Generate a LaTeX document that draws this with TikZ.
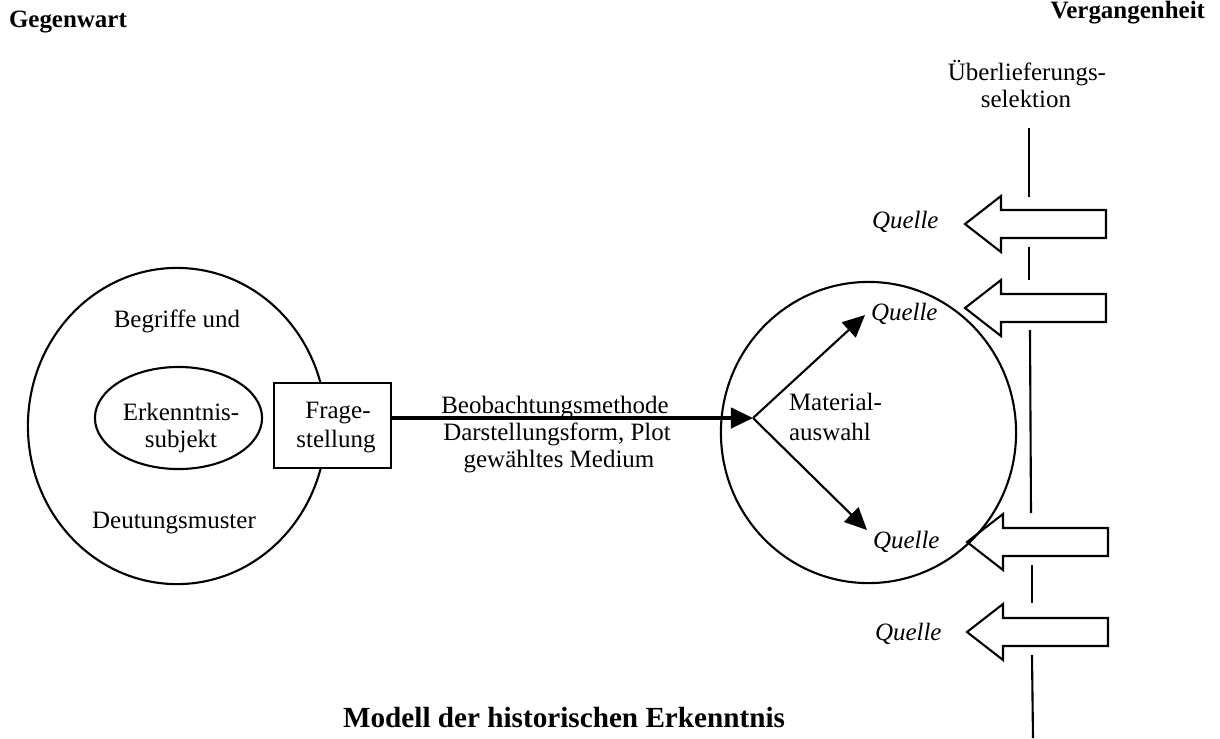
\documentclass[tikz,border=0pt]{standalone}
\usepackage{fontspec}
\setmainfont{Liberation Serif}
\usetikzlibrary{arrows.meta,shapes.geometric}
\begin{document}
\begin{tikzpicture}[x=0.01cm,y=-0.01cm,
  every node/.style={font=\fontsize{7.1}{7.7}\selectfont, inner sep=0pt, outer sep=0pt},
  thinline/.style={line width=0.6pt},
  txt/.style={anchor=base},
  txtl/.style={anchor=base west},
  heading/.style={font=\fontsize{7.1}{7.7}\selectfont\bfseries},
  quelle/.style={anchor=base west, font=\fontsize{7.1}{7.7}\selectfont\itshape},
  arrowtip/.style={-{Triangle[length=6.3pt,width=5.8pt]}},
  blockarrow/.style={thinline, line join=miter}
]
\useasboundingbox (0,0) rectangle (1220,738);

% headings
\node[heading, anchor=base west] (gegenwart) at (9,27) {Gegenwart};
\node[heading, anchor=base east] (vergangenheit) at (1205,18) {Vergangenheit};
\node[txt] (ueber1) at (1027,80) {Überlieferungs-};
\node[txt] (ueber2) at (1026,107) {selektion};

% left circle
\node[ellipse, draw, thinline, minimum width=2.98cm, minimum height=3.16cm] (subjektkreis) at (177,426) {};
\node[txt] (begriffe) at (177,327) {Begriffe und};
\node[txt] (deutung) at (174,528) {Deutungsmuster};
\node[ellipse, draw, thinline, minimum width=1.67cm, minimum height=1.02cm] (subjekt) at (178.5,418) {};
\node[txt] (subjekt1) at (181,420) {Erkenntnis-};
\node[txt] (subjekt2) at (181,447) {subjekt};

% Fragestellung
\node[draw, thinline, fill=white, minimum width=1.17cm, minimum height=0.85cm] (frage) at (332.5,425.5) {};
\node[txt] (frage1) at (338,418) {Frage-};
\node[txt] (frage2) at (336,447) {stellung};

% right circle
\node[ellipse, draw, thinline, minimum width=2.95cm, minimum height=3.01cm] (material) at (868.5,432.5) {};
\coordinate (branch) at (753,418);
\coordinate (q2tip) at (865,315);
\coordinate (q3tip) at (867,530);

% main arrow
\draw[line width=1pt, arrowtip] (frage.east |- branch) -- (branch);
\node[txt] (m1) at (555,413) {Beobachtungsmethode};
\node[txt] (m2) at (557,440) {Darstellungsform, Plot};
\node[txt] (m3) at (559,467) {gewähltes Medium};

% branch arrows
\draw[thinline, arrowtip] (branch) -- (q2tip);
\draw[thinline, arrowtip] (branch) -- (q3tip);
\node[txtl] (mat1) at (789,410) {Material-};
\node[txtl] (mat2) at (789,440) {auswahl};

% Quellen
\node[quelle] (quelle1) at (872,228) {Quelle};
\node[quelle] (quelle2) at (871,320) {Quelle};
\node[quelle] (quelle3) at (873,548) {Quelle};
\node[quelle] (quelle4) at (875,640) {Quelle};

% block arrows
\newcommand\blockarr[3]{%
  \draw[blockarrow] (#1,#2) -- ++(36,-28) -- ++(0,14) -- ++(105,0) -- ++(0,28)
    -- ++(-105,0) -- ++(0,14) -- cycle;
  \coordinate (#3) at (#1,#2);}
\blockarr{965}{224}{ba1}
\blockarr{965}{308}{ba2}
\blockarr{967}{542}{ba3}
\blockarr{967}{632}{ba4}

% selection line
\coordinate (s0) at (1029,128);
\draw[thinline] (s0) -- (1029,197);
\draw[thinline] (1029,247) -- (1029,280);
\draw[thinline] (1030,330) -- (1031,513);
\draw[thinline] (1032,565) -- (1032,603);
\draw[thinline] (1032,655) -- (1033,738);

% title
\node[anchor=base east, font=\fontsize{8.3}{9}\selectfont\bfseries] (title) at (785,727) {Modell der historischen Erkenntnis};
\end{tikzpicture}
\end{document}
